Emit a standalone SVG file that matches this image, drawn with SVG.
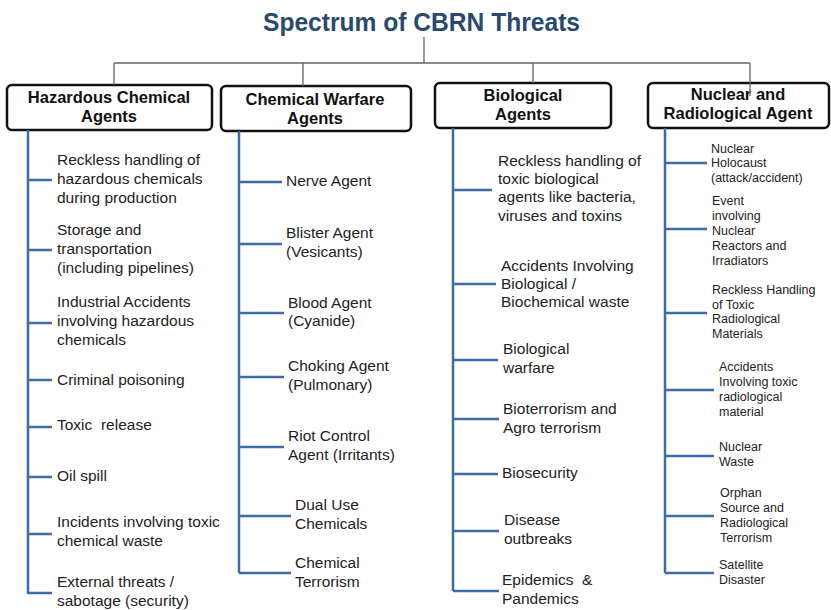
<svg xmlns="http://www.w3.org/2000/svg" width="831" height="610" viewBox="0 0 831 610">
  <style>
    .title { font-family: "Liberation Sans", Arial, sans-serif; font-weight: bold; font-size: 26px; fill: #2a4a6d; }
    .box { fill: #ffffff; stroke: #111111; stroke-width: 2.5; }
    .head { font-family: "Liberation Sans", Arial, sans-serif; font-weight: bold; font-size: 16.5px; fill: #111111; text-anchor: middle; }
    .item { font-family: "Liberation Sans", Arial, sans-serif; font-size: 15.5px; fill: #222222; }
    .small { font-family: "Liberation Sans", Arial, sans-serif; font-size: 12.5px; fill: #222222; }
    .tree { stroke: #666666; stroke-width: 1.3; fill: none; }
    .stem { stroke: #3e6aa5; stroke-width: 2.5; fill: none; }
  </style>
  <rect width="831" height="610" fill="#ffffff"/>

  <g id="title">
    <text class="title" x="263" y="31" textLength="317" lengthAdjust="spacingAndGlyphs">Spectrum of CBRN Threats</text>
  </g>

  <!-- category boxes -->
  <g id="hazardous-chemical">
    <rect class="box" x="7" y="85" width="205" height="45" rx="5"/>
    <text class="head" x="109" y="103">Hazardous Chemical</text>
    <text class="head" x="109" y="122">Agents</text>
  </g>
  <g id="chemical-warfare">
    <rect class="box" x="221" y="86" width="190" height="45" rx="5"/>
    <text class="head" x="315" y="105">Chemical Warfare</text>
    <text class="head" x="315" y="124">Agents</text>
  </g>
  <g id="biological">
    <rect class="box" x="435" y="83" width="176" height="45" rx="5"/>
    <text class="head" x="523" y="101">Biological</text>
    <text class="head" x="523" y="120">Agents</text>
  </g>
  <g id="nuclear-radiological">
    <rect class="box" x="648" y="83" width="181" height="45" rx="5"/>
    <text class="head" x="738" y="100">Nuclear and</text>
    <text class="head" x="738" y="119">Radiological Agent</text>
  </g>

  <!-- connectors: title tree and blue item stems -->
  <g id="connectors">
    <path class="tree" d="M424 37 V63 M114 63 H750 M114 63 V85 M303 63 V86 M533 63 V83 M750 63 V96"/>
    <path class="stem" d="M28 130 V594 M28 180 H52 M28 250 H52 M28 323 H52 M28 380 H52 M28 427 H52 M28 477 H52 M28 534 H52 M28 593 H52"/>
    <path class="stem" d="M239 131 V573 M239 182 H282 M239 244 H282 M239 313 H284 M239 377 H284 M239 447 H284 M239 516 H291 M239 573 H291"/>
    <path class="stem" d="M453 128 V591 M453 190 H492 M453 284 H496 M453 360 H498 M453 419 H499 M453 474 H498 M453 531 H499 M453 591 H499"/>
    <path class="stem" d="M665 128 V573 M665 163 H707 M665 229 H707 M665 313 H707 M665 390 H714 M665 456 H714 M665 516 H714 M665 573 H714"/>
  </g>

  <!-- Hazardous chemical items -->
  <g id="hc-items" class="item">
    <text x="57" y="165">Reckless handling of</text>
    <text x="57" y="184">hazardous chemicals</text>
    <text x="57" y="203">during production</text>
    <text x="57" y="235">Storage and</text>
    <text x="57" y="254">transportation</text>
    <text x="57" y="273">(including pipelines)</text>
    <text x="57" y="307">Industrial Accidents</text>
    <text x="57" y="326">involving hazardous</text>
    <text x="57" y="345">chemicals</text>
    <text x="57" y="385">Criminal poisoning</text>
    <text x="57" y="430" xml:space="preserve">Toxic  release</text>
    <text x="57" y="481">Oil spill</text>
    <text x="57" y="527">Incidents involving toxic</text>
    <text x="57" y="546">chemical waste</text>
    <text x="57" y="587">External threats /</text>
    <text x="57" y="606">sabotage (security)</text>
  </g>

  <!-- Chemical warfare items -->
  <g id="cw-items" class="item">
    <text x="286" y="186">Nerve Agent</text>
    <text x="286" y="238">Blister Agent</text>
    <text x="286" y="257">(Vesicants)</text>
    <text x="288" y="308">Blood Agent</text>
    <text x="288" y="326">(Cyanide)</text>
    <text x="288" y="371">Choking Agent</text>
    <text x="288" y="390">(Pulmonary)</text>
    <text x="288" y="441">Riot Control</text>
    <text x="288" y="460">Agent (Irritants)</text>
    <text x="295" y="510">Dual Use</text>
    <text x="295" y="529">Chemicals</text>
    <text x="295" y="568">Chemical</text>
    <text x="295" y="587">Terrorism</text>
  </g>

  <!-- Biological items -->
  <g id="bio-items" class="item">
    <text x="498" y="166">Reckless handling of</text>
    <text x="498" y="184">toxic biological</text>
    <text x="498" y="202">agents like bacteria,</text>
    <text x="498" y="221">viruses and toxins</text>
    <text x="501" y="271">Accidents Involving</text>
    <text x="501" y="289">Biological /</text>
    <text x="501" y="307">Biochemical waste</text>
    <text x="503" y="354">Biological</text>
    <text x="503" y="373">warfare</text>
    <text x="503" y="414">Bioterrorism and</text>
    <text x="503" y="433">Agro terrorism</text>
    <text x="502" y="478">Biosecurity</text>
    <text x="504" y="525">Disease</text>
    <text x="504" y="544">outbreaks</text>
    <text x="502" y="585" xml:space="preserve">Epidemics  &amp;</text>
    <text x="502" y="604">Pandemics</text>
  </g>

  <!-- Nuclear and radiological items -->
  <g id="nr-items" class="small">
    <text x="711" y="153">Nuclear</text>
    <text x="711" y="167">Holocaust</text>
    <text x="711" y="182">(attack/accident)</text>
    <text x="712" y="205">Event</text>
    <text x="712" y="220">involving</text>
    <text x="712" y="235">Nuclear</text>
    <text x="712" y="250">Reactors and</text>
    <text x="712" y="265">Irradiators</text>
    <text x="712" y="294">Reckless Handling</text>
    <text x="712" y="309">of Toxic</text>
    <text x="712" y="323">Radiological</text>
    <text x="712" y="338">Materials</text>
    <text x="719" y="371">Accidents</text>
    <text x="719" y="386">Involving toxic</text>
    <text x="719" y="401">radiological</text>
    <text x="719" y="416">material</text>
    <text x="719" y="451">Nuclear</text>
    <text x="719" y="466">Waste</text>
    <text x="720" y="497">Orphan</text>
    <text x="720" y="512">Source and</text>
    <text x="720" y="527">Radiological</text>
    <text x="720" y="542">Terrorism</text>
    <text x="719" y="569">Satellite</text>
    <text x="719" y="584">Disaster</text>
  </g>
</svg>
